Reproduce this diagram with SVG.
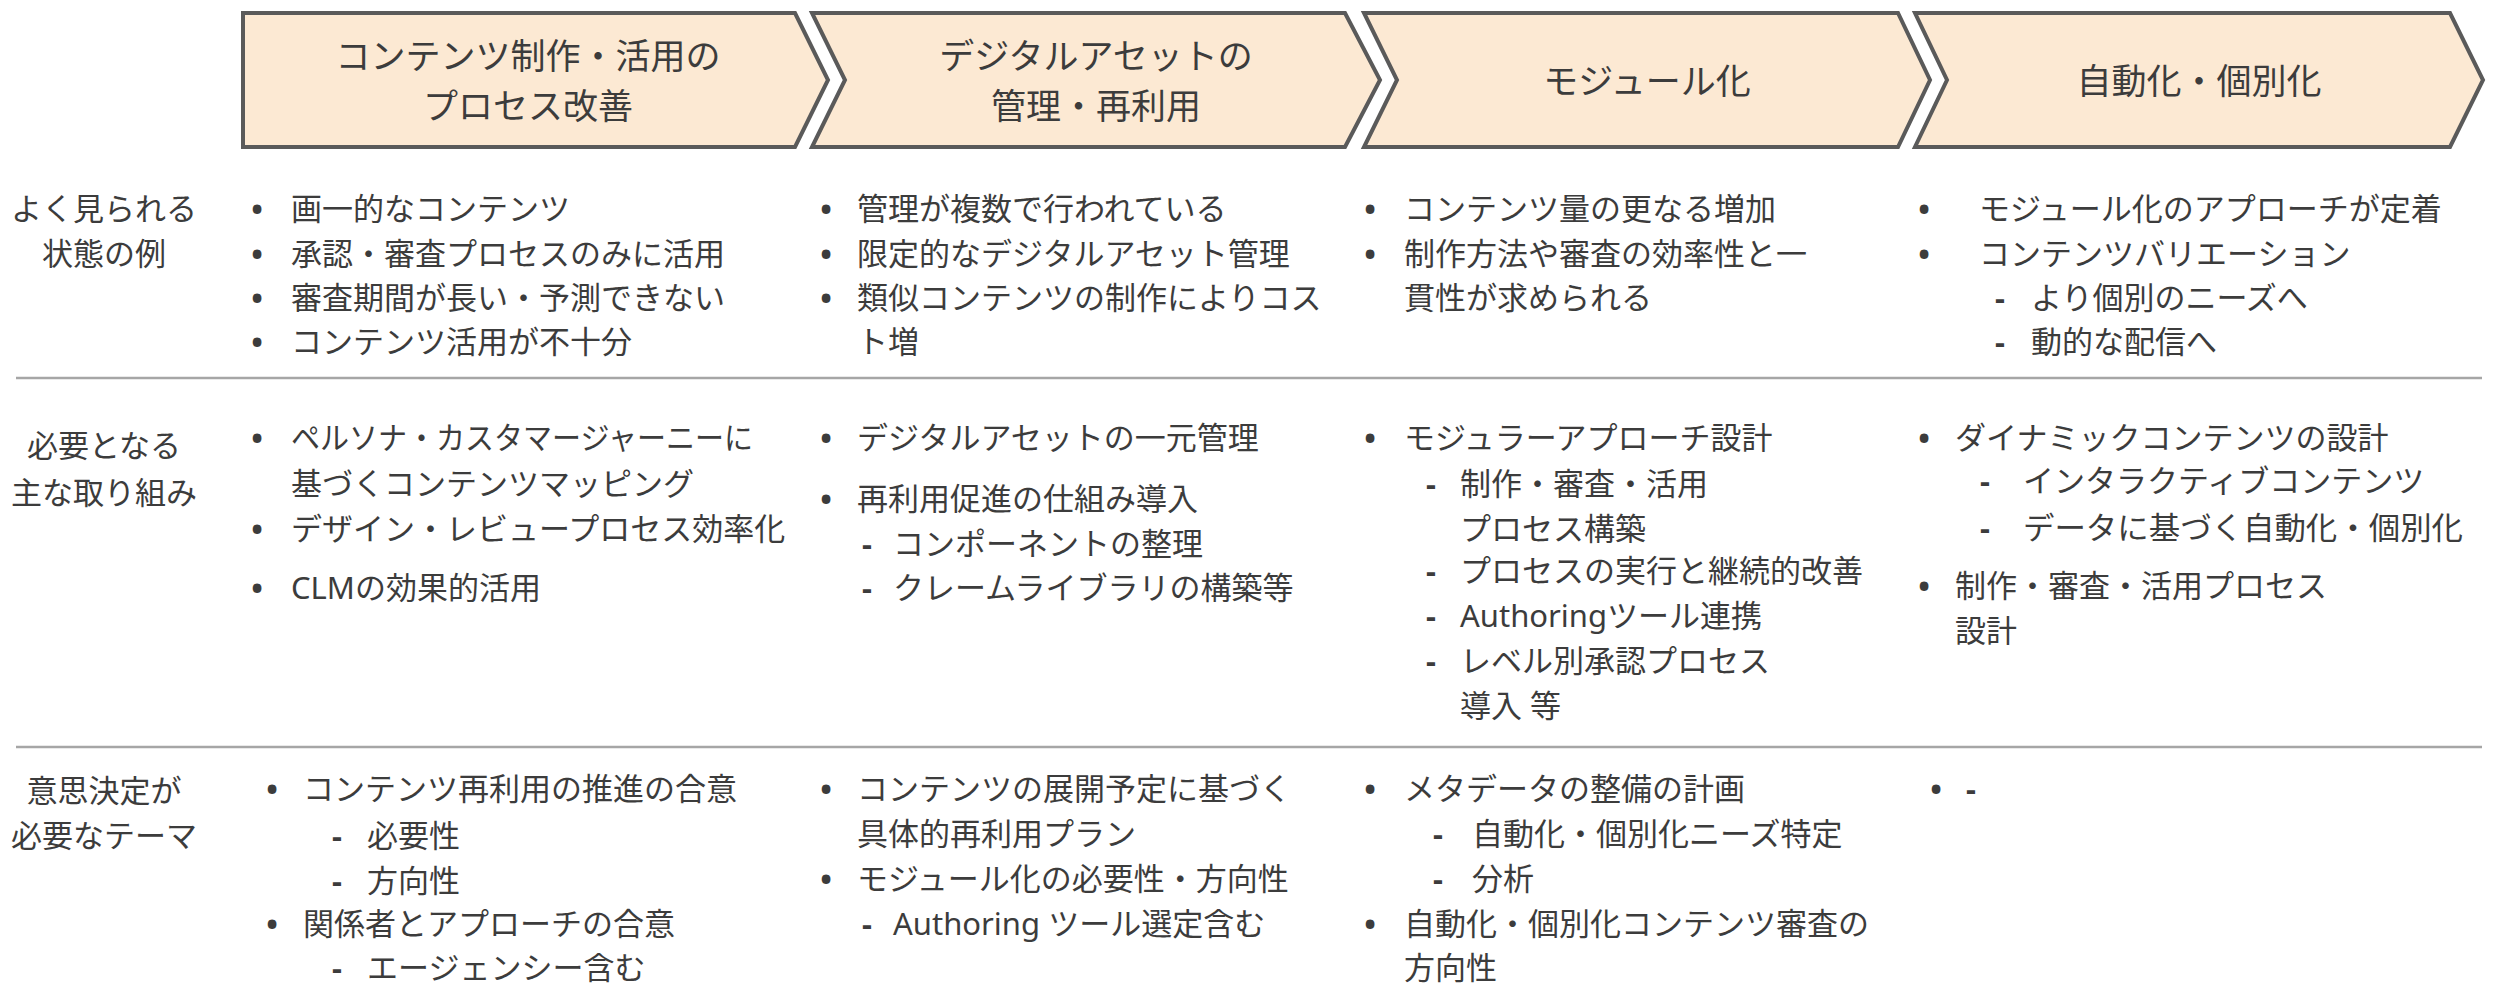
<svg xmlns="http://www.w3.org/2000/svg" width="2493" height="994" viewBox="0 0 2493 994">
<style>
text{font-family:"Noto Sans","Noto Sans CJK JP",sans-serif;fill:#3C3C3C}
.hdr{font-size:35px;text-anchor:middle}
.lbl{font-size:31px;text-anchor:middle}
.t{font-size:31px}
.b{font-size:31px;text-anchor:middle;font-weight:bold}
.d{font-size:31px;text-anchor:middle;font-weight:bold}
.chev{fill:#FCE9D3;stroke:#5A5A5A;stroke-width:4;stroke-linejoin:miter}
.div{stroke:#A6A6A6;stroke-width:2.5}
</style>
<rect width="2493" height="994" fill="#FFFFFF"/>

<g id="dividers">
<line class="div" x1="16" y1="378" x2="2482" y2="378"/>
<line class="div" x1="16" y1="747" x2="2482" y2="747"/>
</g>

<g id="phase1">
<polygon class="chev" points="243,13 795,13 828,80 795,147 243,147"/>
<text class="hdr" x="528" y="69">コンテンツ制作・活用の</text>
<text class="hdr" x="528" y="119">プロセス改善</text>
</g>
<g id="phase2">
<polygon class="chev" points="812,13 1345,13 1380,80 1345,147 812,147 845,80"/>
<text class="hdr" x="1096" y="69">デジタルアセットの</text>
<text class="hdr" x="1096" y="119">管理・再利用</text>
</g>
<g id="phase3">
<polygon class="chev" points="1364,13 1898,13 1930,80 1898,147 1364,147 1397,80"/>
<text class="hdr" x="1647" y="94">モジュール化</text>
</g>
<g id="phase4">
<polygon class="chev" points="1915,13 2450,13 2483,80 2450,147 1915,147 1947,80"/>
<text class="hdr" x="2199" y="94">自動化・個別化</text>
</g>

<g id="label-row1">
<text class="lbl" x="104" y="220">よく見られる</text>
<text class="lbl" x="104" y="265">状態の例</text>
</g>
<g id="label-row2">
<text class="lbl" x="104" y="457">必要となる</text>
<text class="lbl" x="104" y="504">主な取り組み</text>
</g>
<g id="label-row3">
<text class="lbl" x="104" y="802">意思決定が</text>
<text class="lbl" x="104" y="847">必要なテーマ</text>
</g>

<g id="r1c1">
<text class="b" x="257" y="220">•</text><text class="t" x="291" y="220">画一的なコンテンツ</text>
<text class="b" x="257" y="265">•</text><text class="t" x="291" y="265">承認・審査プロセスのみに活用</text>
<text class="b" x="257" y="309">•</text><text class="t" x="291" y="309">審査期間が長い・予測できない</text>
<text class="b" x="257" y="353">•</text><text class="t" x="291" y="353">コンテンツ活用が不十分</text>
</g>
<g id="r1c2">
<text class="b" x="826" y="220">•</text><text class="t" x="857" y="220">管理が複数で行われている</text>
<text class="b" x="826" y="265">•</text><text class="t" x="857" y="265">限定的なデジタルアセット管理</text>
<text class="b" x="826" y="309">•</text><text class="t" x="857" y="309">類似コンテンツの制作によりコス</text>
<text class="t" x="857" y="353">ト増</text>
</g>
<g id="r1c3">
<text class="b" x="1370" y="220">•</text><text class="t" x="1404" y="220">コンテンツ量の更なる増加</text>
<text class="b" x="1370" y="265">•</text><text class="t" x="1404" y="265">制作方法や審査の効率性と一</text>
<text class="t" x="1404" y="309">貫性が求められる</text>
</g>
<g id="r1c4">
<text class="b" x="1924" y="220">•</text><text class="t" x="1979" y="220">モジュール化のアプローチが定着</text>
<text class="b" x="1924" y="265">•</text><text class="t" x="1979" y="265">コンテンツバリエーション</text>
<text class="d" x="2000" y="309">-</text><text class="t" x="2031" y="309">より個別のニーズへ</text>
<text class="d" x="2000" y="353">-</text><text class="t" x="2031" y="353">動的な配信へ</text>
</g>

<g id="r2c1">
<text class="b" x="257" y="449">•</text><text class="t" x="291" y="449" textLength="462" lengthAdjust="spacingAndGlyphs">ペルソナ・カスタマージャーニーに</text>
<text class="t" x="291" y="495">基づくコンテンツマッピング</text>
<text class="b" x="257" y="540">•</text><text class="t" x="291" y="540">デザイン・レビュープロセス効率化</text>
<text class="b" x="257" y="599">•</text><text class="t" x="291" y="599">CLMの効果的活用</text>
</g>
<g id="r2c2">
<text class="b" x="826" y="449">•</text><text class="t" x="857" y="449">デジタルアセットの一元管理</text>
<text class="b" x="826" y="510">•</text><text class="t" x="857" y="510">再利用促進の仕組み導入</text>
<text class="d" x="867" y="555">-</text><text class="t" x="893" y="555">コンポーネントの整理</text>
<text class="d" x="867" y="599">-</text><text class="t" x="893" y="599">クレームライブラリの構築等</text>
</g>
<g id="r2c3">
<text class="b" x="1370" y="449">•</text><text class="t" x="1404" y="449">モジュラーアプローチ設計</text>
<text class="d" x="1431" y="495">-</text><text class="t" x="1460" y="495">制作・審査・活用</text>
<text class="t" x="1460" y="540">プロセス構築</text>
<text class="d" x="1431" y="582">-</text><text class="t" x="1460" y="582">プロセスの実行と継続的改善</text>
<text class="d" x="1431" y="627">-</text><text class="t" x="1460" y="627">Authoringツール連携</text>
<text class="d" x="1431" y="672">-</text><text class="t" x="1460" y="672">レベル別承認プロセス</text>
<text class="t" x="1460" y="717">導入 等</text>
</g>
<g id="r2c4">
<text class="b" x="1924" y="449">•</text><text class="t" x="1955" y="449">ダイナミックコンテンツの設計</text>
<text class="d" x="1985" y="492">-</text><text class="t" x="2023" y="492">インタラクティブコンテンツ</text>
<text class="d" x="1985" y="539">-</text><text class="t" x="2023" y="539" textLength="440" lengthAdjust="spacingAndGlyphs">データに基づく自動化・個別化</text>
<text class="b" x="1924" y="597">•</text><text class="t" x="1955" y="597">制作・審査・活用プロセス</text>
<text class="t" x="1955" y="642">設計</text>
</g>

<g id="r3c1">
<text class="b" x="272" y="800">•</text><text class="t" x="303" y="800">コンテンツ再利用の推進の合意</text>
<text class="d" x="337" y="847">-</text><text class="t" x="367" y="847">必要性</text>
<text class="d" x="337" y="892">-</text><text class="t" x="367" y="892">方向性</text>
<text class="b" x="272" y="935">•</text><text class="t" x="303" y="935">関係者とアプローチの合意</text>
<text class="d" x="337" y="979">-</text><text class="t" x="367" y="979">エージェンシー含む</text>
</g>
<g id="r3c2">
<text class="b" x="826" y="800">•</text><text class="t" x="857" y="800">コンテンツの展開予定に基づく</text>
<text class="t" x="857" y="845">具体的再利用プラン</text>
<text class="b" x="826" y="890">•</text><text class="t" x="857" y="890">モジュール化の必要性・方向性</text>
<text class="d" x="867" y="935">-</text><text class="t" x="893" y="935">Authoring ツール選定含む</text>
</g>
<g id="r3c3">
<text class="b" x="1370" y="800">•</text><text class="t" x="1404" y="800">メタデータの整備の計画</text>
<text class="d" x="1438" y="845">-</text><text class="t" x="1472" y="845">自動化・個別化ニーズ特定</text>
<text class="d" x="1438" y="890">-</text><text class="t" x="1472" y="890">分析</text>
<text class="b" x="1370" y="935">•</text><text class="t" x="1404" y="935">自動化・個別化コンテンツ審査の</text>
<text class="t" x="1404" y="979">方向性</text>
</g>
<g id="r3c4">
<text class="b" x="1936" y="800">•</text><text class="d" x="1971" y="800">-</text>
</g>
</svg>
